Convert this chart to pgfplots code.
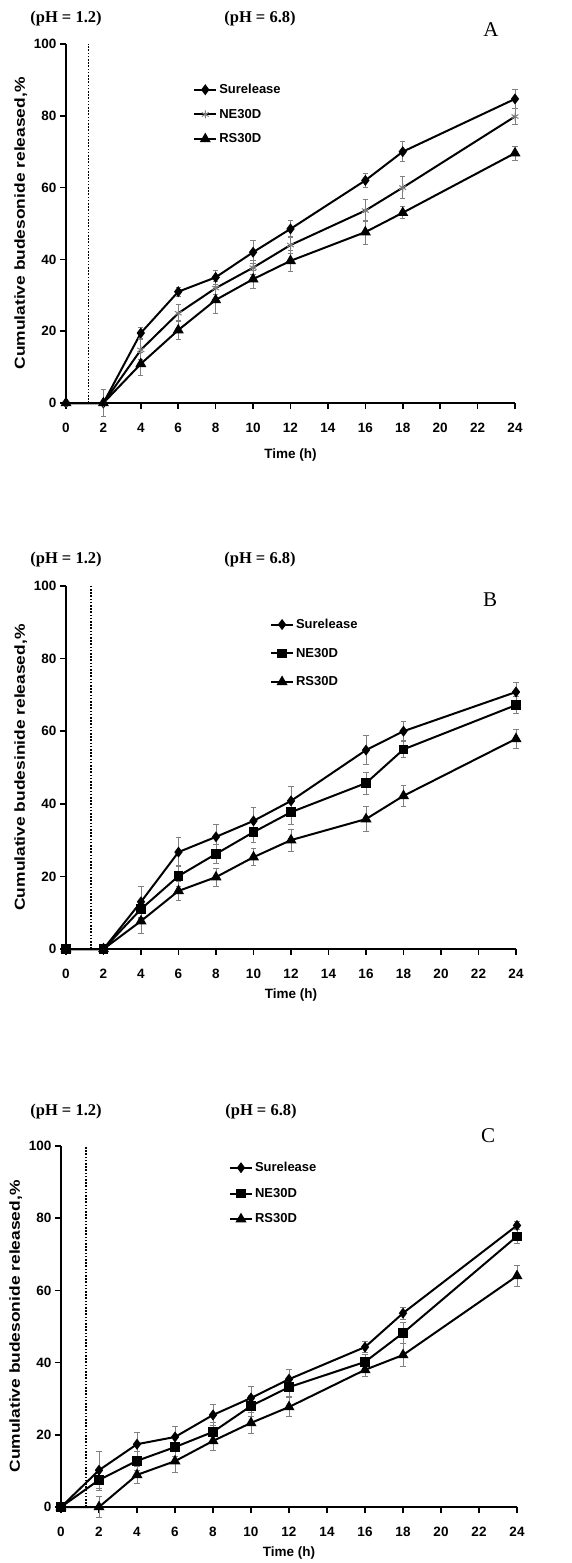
\documentclass[border=0pt]{standalone}
\usepackage{pgfplots}
\pgfplotsset{compat=1.18}
\usepackage{pgfplotstable}
\usepackage{fontspec}
\setmainfont{Liberation Sans}
\newfontfamily\timesfont{Liberation Serif}
\usepackage{graphicx}

% t = time (h); s, n, r = Surelease, NE30D, RS30D; *e = error
\pgfplotstableread{
t  s    se   n    ne   r    re
0  0    0    0    0    0    0
2  0    0    0    3.7  0    0
4  19.5 1.6  14.8 2.8  10.9 3.2
6  31   1.3  25   2.4  20.3 2.6
8  35   2    32   1.9  28.7 3.7
10 42   3.2  37.7 2    34.5 2.5
12 48.5 2.4  44   2.3  39.6 3
16 62   2    53.6 3    47.6 3.3
18 70   2.8  60   3    53   1.7
24 84.7 2.6  79.8 2.3  69.6 1.9
}\dataA

\pgfplotstableread{
t  s    se   n    ne   r    re
0  0    0    0    0    0    0
2  0    0    0    0    0    0
4  13   4.3  11   2.5  7.7  3.4
6  26.7 3.9  20.1 2.8  16   2.6
8  30.9 3.4  26.2 2.5  19.8 2.5
10 35.3 3.6  32.2 2.8  25.3 2.3
12 40.8 3.9  37.7 3.4  30   3
16 54.8 3.9  45.7 3    35.8 3.5
18 60   2.6  55   2.2  42.2 2.9
24 70.8 2.6  67.2 2.3  57.9 2.6
}\dataB

\pgfplotstableread{
t  s    se   n    ne   r    re
0  0    0    0    0    0    0
2  10.2 5.1  7.5  2.8  0    2.8
4  17.4 3.3  12.8 2.6  8.9  2.3
6  19.4 3    16.6 2.5  12.7 3
8  25.5 2.8  20.8 2.5  18.3 2.7
10 30.2 3.2  28   2.8  23.3 3
12 35.4 2.8  33.2 2.5  27.7 2.6
16 44.3 1.6  40.2 2    38   1.9
18 53.7 1.7  48.2 3    42.1 3.2
24 78   1    75   2    64   2.8
}\dataC

\pgfplotsset{
  panel/.style={
    scale only axis,
    axis lines=left,
    axis line style={-, line width=2.2pt},
    xmin=0, xmax=24, ymin=0, ymax=100,
    xtick={0,2,...,24}, ytick={0,20,...,100},
    tick align=outside,
    major tick length=6pt,
    tick style={black, line width=1.6pt},
    /pgf/number format/assume math mode=true,
    tick label style={font=\fontsize{13.5}{15}\selectfont\bfseries},
    xticklabel style={yshift=-11pt},
    xlabel={Time (h)},
    xlabel style={font=\fontsize{13.5}{15}\selectfont\bfseries,
      at={(axis description cs:0.5,0)}, anchor=center},
    ylabel style={font=\fontsize{14.5}{16}\selectfont\bfseries},
    clip=false,
    legend cell align=left,
    legend style={draw=none, fill=none, inner sep=0pt, anchor=north west,
      font=\fontsize{13}{15}\selectfont\bfseries},
    legend image code/.code={
      \draw[mark repeat=2, mark phase=2] plot coordinates {(0pt,0pt) (11pt,0pt) (22pt,0pt)};},
  },
  ebar/.style={error bars/.cd, y dir=both, y explicit,
    error bar style={gray, line width=0.9pt},
    error mark options={rotate=90, mark size=2.6pt, gray, line width=0.9pt}},
  sur/.style={black, line width=2pt, mark=diamond*, mark size=3.9pt, mark options={solid}, ebar},
  nesq/.style={black, line width=2pt, mark=square*, mark size=3.7pt, mark options={solid}, ebar},
  nest/.style={black, line width=2pt, mark=asterisk, mark size=4pt, mark options={gray, line width=1pt}, ebar},
  rs/.style={black, line width=2pt, mark=triangle*, mark size=4.4pt, mark options={solid}, ebar},
  ph/.style={black, line width=1.9pt, dash pattern=on 1.6pt off 1.6pt, forget plot},
}

\begin{document}
\begin{tikzpicture}
\useasboundingbox (0,-1563pt) rectangle (571pt,0);

% ---------- A ----------
\begin{axis}[panel, at={(66pt,-403pt)}, anchor=south west, width=449pt, height=359pt,
  xlabel style={yshift=-52pt},
  ylabel={\scalebox{1.2}[1]{Cumulative budesonide released,\%}},
  legend style={at={(rel axis cs:0.283,0.894)}, row sep=10pt}]
  \addplot[ph] coordinates {(1.2,0) (1.2,100)};
  \addplot[sur]  table[x=t, y=s, y error=se] {\dataA};
  \addplot[nest] table[x=t, y=n, y error=ne] {\dataA};
  \addplot[rs]   table[x=t, y=r, y error=re] {\dataA};
  \legend{Surelease,NE30D,RS30D}
\end{axis}

% ---------- B ----------
\begin{axis}[panel, at={(66pt,-949pt)}, anchor=south west, width=450pt, height=363pt,
  xlabel style={yshift=-46pt},
  ylabel={\scalebox{1.2}[1]{Cumulative budesinide released,\%}},
  legend style={at={(rel axis cs:0.453,0.915)}, row sep=14pt}]
  \addplot[ph] coordinates {(1.35,0) (1.35,100)};
  \addplot[sur]  table[x=t, y=s, y error=se] {\dataB};
  \addplot[nesq] table[x=t, y=n, y error=ne] {\dataB};
  \addplot[rs]   table[x=t, y=r, y error=re] {\dataB};
  \legend{Surelease,NE30D,RS30D}
\end{axis}

% ---------- C ----------
\begin{axis}[panel, at={(61pt,-1507pt)}, anchor=south west, width=456pt, height=361pt,
  xlabel style={yshift=-46pt},
  ylabel={\scalebox{1.2}[1]{Cumulative budesonide released,\%}},
  legend style={at={(rel axis cs:0.368,0.961)}, row sep=11pt}]
  \addplot[ph] coordinates {(1.3,0) (1.3,100)};
  \addplot[sur]  table[x=t, y=s, y error=se] {\dataC};
  \addplot[nesq] table[x=t, y=n, y error=ne] {\dataC};
  \addplot[rs]   table[x=t, y=r, y error=re] {\dataC};
  \legend{Surelease,NE30D,RS30D}
\end{axis}

% labels above the panels
\begin{scope}[every node/.style={font=\timesfont\bfseries\fontsize{16.5}{18}\selectfont}]
  \node at (66pt,-19pt) {(pH = 1.2)};
  \node at (260pt,-19pt) {(pH = 6.8)};
  \node at (66pt,-560pt) {(pH = 1.2)};
  \node at (260pt,-560pt) {(pH = 6.8)};
  \node at (66pt,-1112pt) {(pH = 1.2)};
  \node at (261pt,-1112pt) {(pH = 6.8)};
\end{scope}
\begin{scope}[every node/.style={font=\timesfont\fontsize{21}{23}\selectfont}]
  \node at (491pt,-30pt) {A};
  \node at (490pt,-600pt) {B};
  \node at (488pt,-1136pt) {C};
\end{scope}
\end{tikzpicture}
\end{document}
